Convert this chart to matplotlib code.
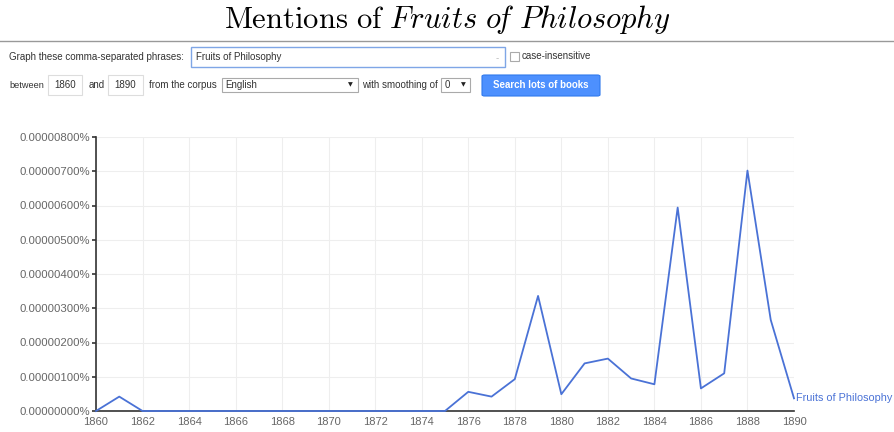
import matplotlib
matplotlib.use("Agg")
import matplotlib.pyplot as plt
from matplotlib.patches import Rectangle, FancyBboxPatch
from matplotlib.ticker import FuncFormatter, MultipleLocator

# Données (fréquence en %, unités de 1e-6 %)
years = list(range(1860, 1891))
freq = [0.0, 0.42, 0.0, 0.0, 0.0, 0.0, 0.0, 0.0, 0.0, 0.0,
        0.0, 0.0, 0.0, 0.0, 0.0, 0.0, 0.56, 0.42, 0.93, 3.36,
        0.49, 1.39, 1.53, 0.95, 0.78, 5.94, 0.66, 1.10, 7.02, 2.66,
        0.37]
phrase = "Fruits of Philosophy"
ytick_vals = [0, 1, 2, 3, 4, 5, 6, 7, 8]

W, H = 895, 432
plt.rcParams['font.family'] = ['Liberation Sans', 'DejaVu Sans']
plt.rcParams['mathtext.fontset'] = 'cm'

fig = plt.figure(figsize=(W / 100, H / 100), dpi=100)

def fx(px):
    return px / W

def fy(py):
    return 1 - py / H

# Titre
fig.text(0.5, fy(20), r"$\mathrm{Mentions\ of}\ \mathit{Fruits\ o\!f\ Philosophy}$",
         ha='center', va='center', fontsize=22, color='black')
fig.add_artist(plt.Line2D([0, 1], [fy(41), fy(41)], color='#999999', lw=1))

# Formulaire
grey_txt = '#333333'
fs = 7.0

def box(x0, y0, x1, y1, ec='#cccccc', fc='white', lw=0.8):
    fig.add_artist(Rectangle((fx(x0), fy(y1)), fx(x1 - x0), fy(y0) - fy(y1),
                             transform=fig.transFigure, fc=fc, ec=ec, lw=lw))

fig.text(fx(9), fy(57), "Graph these comma-separated phrases:", fontsize=fs,
         color=grey_txt, va='center')
box(191, 47, 505, 67, ec='#7fa6e6', lw=1)
fig.text(fx(196), fy(57), "Fruits of Philosophy", fontsize=fs, color=grey_txt, va='center')
fig.text(fx(496), fy(58), "-", fontsize=fs, color='#bbbbbb', va='center')
box(510, 52, 519, 61, ec='#aaaaaa')
fig.text(fx(522), fy(56), "case-insensitive", fontsize=fs, color=grey_txt, va='center')

fig.text(fx(9), fy(85), "between", fontsize=6.6, color=grey_txt, va='center')
box(48, 75, 82, 95, ec='#dddddd')
fig.text(fx(65), fy(85), "1860", fontsize=fs, color=grey_txt, va='center', ha='center')
fig.text(fx(89), fy(85), "and", fontsize=fs, color=grey_txt, va='center')
box(108, 75, 143, 95, ec='#dddddd')
fig.text(fx(125.5), fy(85), "1890", fontsize=fs, color=grey_txt, va='center', ha='center')
fig.text(fx(149), fy(85), "from the corpus", fontsize=fs, color=grey_txt, va='center')
box(222, 78, 358, 92, ec='#aaaaaa')
fig.text(fx(225), fy(85), "English", fontsize=fs, color=grey_txt, va='center')
fig.text(fx(350), fy(85), "\u25bc", fontsize=4.5, color='#222222', va='center', ha='center',
         family='DejaVu Sans')
fig.text(fx(362), fy(85), "with smoothing of", fontsize=fs, color=grey_txt, va='center')
box(441, 78, 470, 92, ec='#aaaaaa')
fig.text(fx(445), fy(85), "0", fontsize=fs, color=grey_txt, va='center')
fig.text(fx(463), fy(85), "\u25bc", fontsize=4.5, color='#222222', va='center', ha='center',
         family='DejaVu Sans')
fig.add_artist(FancyBboxPatch((fx(482), fy(96)), fx(118), fy(75) - fy(96),
                              boxstyle='round,pad=0,rounding_size=0.003',
                              transform=fig.transFigure, fc='#4d90fe', ec='#3079ed', lw=0.8))
fig.text(fx(541), fy(85.5), "Search lots of books", fontsize=fs, color='white',
         va='center', ha='center', fontweight='bold')

# Graphique
ax = fig.add_axes([fx(96), fy(411), fx(794 - 96), fy(137) - fy(411)])
ax.plot(years, freq, color='#4a72d6', lw=1.3, clip_on=False, zorder=3)
ax.set_xlim(1860, 1890)
ax.set_ylim(0, 8)
ax.xaxis.set_major_locator(MultipleLocator(2))
ax.set_yticks(ytick_vals)
ax.yaxis.set_major_formatter(FuncFormatter(lambda v, p: f"{v * 1e-6:.8f}%"))
ax.grid(True, color='#eeeeee', lw=0.8)
ax.set_axisbelow(True)
for s in ['top', 'right']:
    ax.spines[s].set_visible(False)
ax.spines['left'].set_color('#333333')
ax.spines['bottom'].set_color('#333333')
ax.spines['left'].set_linewidth(1.2)
ax.spines['bottom'].set_linewidth(1.2)
ax.tick_params(axis='y', length=3, width=1.2, color='#333333', labelsize=8.2,
               labelcolor='#666666', pad=1)
ax.tick_params(axis='x', length=0, labelsize=8.0, labelcolor='#666666', pad=4.5)
ax.text(1890.1, freq[-1], phrase, color='#4a72d6', fontsize=7.8, va='center',
        ha='left', clip_on=False)

fig.savefig('out.png', dpi=100)
